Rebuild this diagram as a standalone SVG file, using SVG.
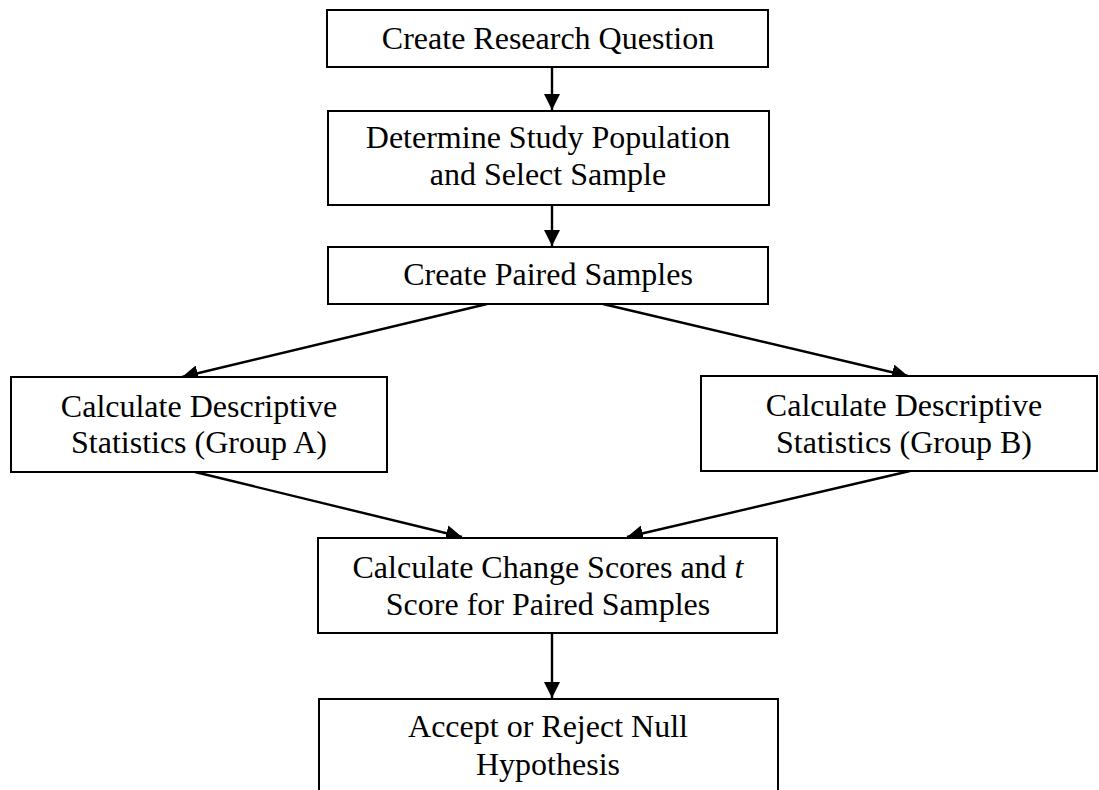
<svg xmlns="http://www.w3.org/2000/svg" width="1099" height="790" viewBox="0 0 1099 790">
<style>
.box{fill:#fff;stroke:#000;stroke-width:2}
.t{font-family:"Liberation Serif","Times New Roman",serif;font-size:32px;fill:#000;text-anchor:middle}
.c{stroke:#000;stroke-width:2.4;fill:none;marker-end:url(#ah)}
</style>
<defs>
<marker id="ah" viewBox="0 0 10 10" refX="10" refY="5" markerWidth="16" markerHeight="16" markerUnits="userSpaceOnUse" orient="auto">
<path d="M0,0 L10,5 L0,10 z" fill="#000"/>
</marker>
</defs>
<rect width="1099" height="790" fill="#fff"/>
<g id="connectors">
<line class="c" x1="552" y1="67" x2="552" y2="110"/>
<line class="c" x1="552" y1="205" x2="552" y2="246"/>
<line class="c" x1="487" y1="304" x2="182" y2="377"/>
<line class="c" x1="603" y1="304" x2="908" y2="376"/>
<line class="c" x1="195" y1="472" x2="462" y2="537"/>
<line class="c" x1="910" y1="471" x2="627" y2="537"/>
<line class="c" x1="552" y1="633" x2="552" y2="698"/>
</g>
<g id="n1"><rect class="box" x="327" y="10" width="441" height="57"/><text class="t" x="548" y="49">Create Research Question</text></g>
<g id="n2"><rect class="box" x="328" y="111" width="441" height="94"/><text class="t" x="548" y="148">Determine Study Population</text><text class="t" x="548" y="185">and Select Sample</text></g>
<g id="n3"><rect class="box" x="328" y="247" width="440" height="57"/><text class="t" x="548" y="285">Create Paired Samples</text></g>
<g id="nA"><rect class="box" x="11" y="377" width="376" height="95"/><text class="t" x="199" y="417">Calculate Descriptive</text><text class="t" x="199" y="453">Statistics (Group A)</text></g>
<g id="nB"><rect class="box" x="701" y="376" width="396" height="95"/><text class="t" x="904" y="416">Calculate Descriptive</text><text class="t" x="904" y="453">Statistics (Group B)</text></g>
<g id="nC"><rect class="box" x="318" y="538" width="459" height="95"/><text class="t" x="548" y="578">Calculate Change Scores and <tspan font-style="italic">t</tspan></text><text class="t" x="548" y="615">Score for Paired Samples</text></g>
<g id="nD"><rect class="box" x="319" y="699" width="459" height="110"/><text class="t" x="548" y="737">Accept or Reject Null</text><text class="t" x="548" y="775">Hypothesis</text></g>
</svg>
